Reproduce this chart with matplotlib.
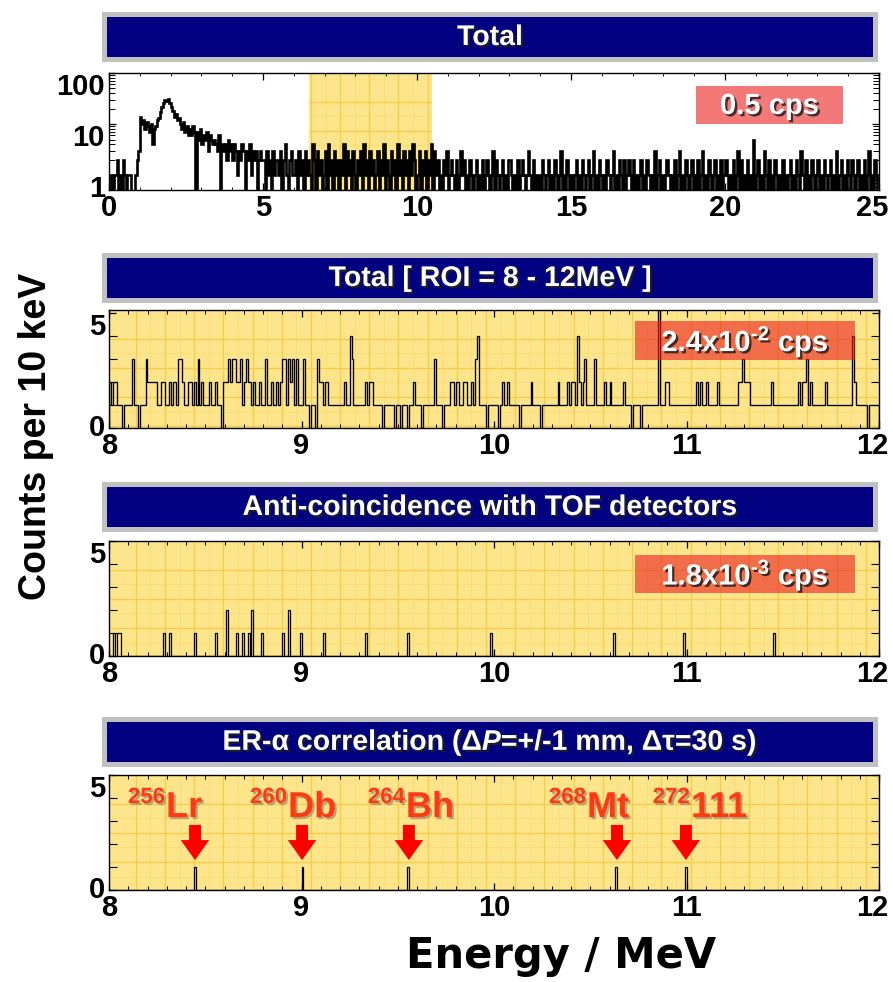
import numpy as np
import matplotlib
matplotlib.use('Agg')
import matplotlib.pyplot as plt
from matplotlib.patches import Rectangle, FancyArrow
from matplotlib.collections import LineCollection
from matplotlib.transforms import ScaledTranslation
import matplotlib.patheffects as pe
from matplotlib.ticker import FixedLocator, FixedFormatter, MultipleLocator, NullFormatter, LogLocator

plt.rcParams['font.family'] = ['Liberation Sans', 'DejaVu Sans']
plt.rcParams['font.weight'] = 'bold'
plt.rcParams['mathtext.fontset'] = 'custom'
plt.rcParams['mathtext.rm'] = 'Liberation Sans:bold'
plt.rcParams['mathtext.it'] = 'Liberation Sans:italic:bold'
plt.rcParams['mathtext.bf'] = 'Liberation Sans:bold'
plt.rcParams['mathtext.default'] = 'regular'
plt.rcParams['path.simplify'] = False

# ---------------- data ----------------
# Panel 1: total spectrum, counts per 10 keV, read at 0.05 MeV steps
total_low = [0, 1, 0, 1, 1, 2, 0, 1, 0, 2, 1, 0, 1, 1, 0, 0, 0, 1, 2, 3,      # 0-1 MeV
             14, 10, 12, 8, 11, 9, 7, 10, 4, 8, 9, 12,                        # 1.0-1.6
             13, 17, 22, 26, 30, 28, 31, 26, 22,                              # 1.6-2.05
             18, 14, 16, 12, 13,                                              # 2.05-2.3
             10, 8, 11, 7, 9, 6, 8, 6, 9, 7,                                  # 2.3-2.8
             0, 7, 5, 8, 4, 6, 5, 7, 3, 6, 5, 4,                              # 2.8-3.4
             5, 4, 3, 6, 0, 4, 3, 4, 2, 5, 3, 4, 2, 4, 3, 1,                  # 3.4-4.2
             3, 2, 4, 3, 0, 3, 2, 4, 1, 3, 2, 3, 0, 2, 3, 2]                  # 4.2-5.0
total_high_rows = [
    "20312031221302410231",  # 5 MeV
    "12031203121042031201",  # 6
    "30412031202140312031",  # 7
    "02130412031201302140",  # 8
    "21031204120312031420",  # 9
    "13021302140312010213",  # 10
    "01210201312010210120",  # 11
    "10201210130210120102",  # 12
    "21010201210131020101",  # 13
    "02101201021013010210",  # 14
    "10120102101201301021",  # 15
    "01021013010210201210",  # 16
    "20101201021010301201",  # 17
    "01210102013010210120",  # 18
    "10201301021012010201",  # 19
    "21010201302010201050",  # 20
    "12010310201021010201",  # 21
    "01201021031020102101",  # 22
    "20102101201030120102",  # 23
    "10210120102013010210",  # 24
]
total_step = 0.05
roi_band = (6.5, 10.5)
rate_total = "0.5 cps"

# Panel 2: ROI 8-12 MeV, counts per 10 keV bin (rows of 0.1 MeV)
roi_rows = [
    [2, 1, 2, 2, 1, 1, 1, 0, 1, 1], [1, 1, 3, 1, 1, 0, 1, 1, 1, 3],
    [2, 2, 2, 2, 2, 1, 1, 2, 2, 1], [1, 2, 1, 2, 2, 1, 3, 3, 2, 1],
    [1, 2, 2, 1, 2, 1, 3, 1, 2, 1], [1, 1, 2, 1, 1, 2, 1, 1, 0, 2],
    [2, 2, 3, 2, 3, 3, 2, 2, 3, 1], [2, 3, 2, 2, 1, 2, 1, 1, 2, 1],
    [1, 3, 1, 1, 2, 1, 1, 2, 1, 2], [3, 3, 1, 3, 2, 3, 1, 3, 1, 1],
    [1, 3, 1, 1, 0, 1, 1, 0, 3, 2], [2, 1, 2, 2, 1, 1, 1, 1, 1, 1],
    [1, 1, 2, 1, 1, 4, 3, 1, 1, 1], [1, 1, 1, 2, 1, 2, 2, 1, 1, 1],
    [1, 1, 0, 1, 1, 1, 1, 1, 0, 1], [1, 0, 1, 1, 1, 0, 1, 1, 2, 1],
    [1, 1, 0, 1, 1, 1, 1, 1, 1, 3], [1, 1, 1, 0, 1, 1, 1, 2, 2, 1],
    [2, 2, 1, 1, 2, 2, 1, 1, 2, 1], [3, 4, 1, 1, 1, 1, 0, 1, 1, 1],
    [1, 1, 0, 1, 2, 1, 1, 2, 1, 1], [1, 1, 1, 0, 1, 1, 1, 1, 1, 2],
    [1, 1, 1, 1, 0, 1, 1, 1, 1, 1], [1, 1, 1, 2, 1, 1, 1, 1, 2, 1],
    [2, 2, 1, 4, 2, 1, 2, 3, 1, 1], [1, 1, 3, 1, 1, 1, 1, 2, 1, 1],
    [2, 1, 1, 1, 1, 1, 1, 2, 1, 1], [1, 0, 1, 1, 1, 1, 0, 1, 1, 1],
    [1, 1, 1, 1, 1, 6, 1, 1, 1, 2], [2, 1, 1, 1, 1, 1, 1, 1, 1, 1],
    [1, 1, 1, 1, 1, 2, 1, 2, 1, 1], [2, 1, 1, 1, 1, 1, 2, 1, 1, 1],
    [1, 1, 1, 1, 1, 1, 1, 2, 2, 3], [2, 2, 2, 1, 1, 1, 1, 1, 1, 1],
    [1, 1, 1, 1, 2, 1, 1, 1, 1, 1], [1, 1, 1, 1, 1, 1, 1, 1, 2, 1],
    [2, 2, 3, 1, 2, 1, 1, 1, 1, 1], [1, 1, 2, 1, 1, 1, 1, 1, 1, 1],
    [1, 1, 1, 1, 1, 1, 4, 2, 1, 1], [1, 1, 1, 1, 0, 1, 1, 1, 1, 1],
]
rate_roi = "2.4x10$^{\u2010 2}$ cps"

# Panel 3: anti-coincidence events (energy MeV, counts)
anti_E = [8.021, 8.043, 8.055, 8.287, 8.312, 8.445, 8.558, 8.617, 8.667, 8.692,
          8.727, 8.745, 8.797, 8.906, 8.937, 8.996, 9.113, 9.338, 9.553, 9.984,
          10.62, 10.98, 11.455]
anti_N = [1, 1, 1, 1, 1, 1, 1, 2, 1, 1, 1, 2, 1, 1, 2, 1, 1, 1, 1, 1, 1, 1, 1]
rate_anti = "1.8x10$^{\u2010 3}$ cps"

# Panel 4: ER-alpha correlated events
er_E = [8.447, 9.003, 9.558, 10.639, 10.997]
er_N = [1, 1, 1, 1, 1]
er_mass = ["256", "260", "264", "268", "272"]
er_sym = ["Lr", "Db", "Bh", "Mt", "111"]

titles = ["Total", "Total [ ROI = 8 - 12MeV ]", "Anti-coincidence with TOF detectors",
          "ER-\u03b1 correlation (\u0394$\\mathit{P}$=+/-1 mm, \u0394\u03c4=30 s)"]
roi_edges_range = (8.0, 12.0)
bin_w = 0.01

# ---------------- figure ----------------
W, H = 893, 982
fig = plt.figure(figsize=(W / 100, H / 100), dpi=100)

def fx(px):
    return px / W

def fy(py):
    return 1 - py / H

def add_axes(x0, y0, x1, y1):
    return fig.add_axes([fx(x0), fy(y1), (x1 - x0) / W, (y1 - y0) / H])

shadow = [pe.SimplePatchShadow(offset=(1.6, -1.6), shadow_rgbFace='#202020', alpha=0.85), pe.Normal()]
lshadow = [pe.SimplePatchShadow(offset=(1.5, -1.5), shadow_rgbFace='#9a8a70', alpha=0.7), pe.Normal()]

YEL = '#FDE58C'
GRIDC = '#F6CC48'


def title_bar(y0, y1, text):
    fig.patches.append(Rectangle((fx(102), fy(y1)), (878 - 102) / W, (y1 - y0) / H,
                                 transform=fig.transFigure, facecolor='#C0C0C0', edgecolor='none'))
    fig.patches.append(Rectangle((fx(107), fy(y1 - 5)), (873 - 107) / W, (y1 - y0 - 10) / H,
                                 transform=fig.transFigure, facecolor='#000080', edgecolor='none'))
    fig.text(fx(490), fy((y0 + y1) / 2 + 1), text, color='white', fontsize=20.5, fontweight='bold',
             ha='center', va='center', path_effects=shadow)


def paper(ax, w_px, h_px, clip=None):
    segs = []
    x = 26.7
    while x < w_px:
        segs.append([(x / w_px, 0), (x / w_px, 1)])
        x += 29.2
    y = 28.5
    while y < h_px:
        segs.append([(0, 1 - y / h_px), (1, 1 - y / h_px)])
        y += 29.2
    lc = LineCollection(segs, colors=GRIDC, linewidths=0.9, transform=ax.transAxes, zorder=0.6)
    ax.add_collection(lc)
    if clip is not None:
        lc.set_clip_path(clip)
    segs2 = []
    x = 26.7 + 14.6
    while x < w_px:
        segs2.append([(x / w_px, 0), (x / w_px, 1)])
        x += 29.2
    y = 28.5 + 14.6
    while y < h_px:
        segs2.append([(0, 1 - y / h_px), (1, 1 - y / h_px)])
        y += 29.2
    lc2 = LineCollection(segs2, colors='#F9DA72', linewidths=0.5, transform=ax.transAxes, zorder=0.55)
    ax.add_collection(lc2)
    if clip is not None:
        lc2.set_clip_path(clip)


def rate_box(ax, x0, y0, x1, y1, text):
    r = Rectangle((fx(x0), fy(y1)), (x1 - x0) / W, (y1 - y0) / H, transform=fig.transFigure,
                  facecolor='#EC1E1E', alpha=0.6, edgecolor='none', zorder=3)
    ax.add_patch(r)
    fig.text(fx((x0 + x1) / 2), fy((y0 + y1) / 2 + 1), text, color='white', fontsize=21,
             ha='center', va='center', path_effects=shadow, zorder=6)


AX_X0, AX_X1 = 109, 879

# ---- panel 1 ----
title_bar(12, 62, titles[0])
ax1 = add_axes(AX_X0, 73, AX_X1, 190)
total_high = [int(c) for row in total_high_rows for c in row]
vals1 = np.array(total_low + total_high, dtype=float)
edges1 = np.arange(len(vals1) + 1) * total_step
ax1.set_xlim(0, 25)
ax1.set_yscale('log')
ax1.set_ylim(0.515, 100)
span = ax1.axvspan(roi_band[0], roi_band[1], facecolor=YEL, edgecolor='none', zorder=0.5)
paper(ax1, AX_X1 - AX_X0, 117, clip=span)
# empty bins drawn at a floor below the visible range so the steps drop to the axis
vals1_draw = np.where(vals1 > 0, vals1, 0.2)
ax1.stairs(vals1_draw, edges1, baseline=0.2, color='black', lw=1.9, zorder=2)
ax1.xaxis.set_major_locator(MultipleLocator(5))
ax1.xaxis.set_minor_locator(MultipleLocator(1))
ax1.yaxis.set_major_locator(FixedLocator([1, 10, 100]))
ax1.yaxis.set_major_formatter(FixedFormatter(['1', '10', '100']))
ax1.yaxis.set_minor_locator(LogLocator(base=10, subs=np.arange(2, 10)))
ax1.yaxis.set_minor_formatter(NullFormatter())
rate_box(ax1, 696, 86, 843, 124, rate_total)

# ---- panels 2-4 ----
edges = np.round(np.arange(roi_edges_range[0], roi_edges_range[1] + bin_w / 2, bin_w), 3)

title_bar(253, 303, titles[1])
ax2 = add_axes(AX_X0, 310, AX_X1, 428)
vals2 = np.array([v for row in roi_rows for v in row], dtype=float)
ax2.set_facecolor(YEL)
paper(ax2, AX_X1 - AX_X0, 118)
ax2.stairs(vals2, edges, baseline=0, color='black', lw=0.95, zorder=2)
ax2.set_ylim(0, 5.13)
rate_box(ax2, 635, 321, 855, 360, rate_roi)

title_bar(482, 532, titles[2])
ax3 = add_axes(AX_X0, 541, AX_X1, 656)
vals3, _ = np.histogram(anti_E, bins=edges, weights=anti_N)
ax3.set_facecolor(YEL)
paper(ax3, AX_X1 - AX_X0, 115)
ax3.stairs(vals3, edges, baseline=0, color='black', lw=0.9, zorder=2)
ax3.set_ylim(0, 5)
rate_box(ax3, 635, 555, 855, 593, rate_anti)

title_bar(717, 767, titles[3])
ax4 = add_axes(AX_X0, 775, AX_X1, 890)
vals4, _ = np.histogram(er_E, bins=edges, weights=er_N)
ax4.set_facecolor(YEL)
paper(ax4, AX_X1 - AX_X0, 115)
ax4.stairs(vals4, edges, baseline=0, color='black', lw=0.9, zorder=2)
ax4.set_ylim(0, 5)

# arrows and nuclide labels (layout in pixel offsets)
px_per_mev = (AX_X1 - AX_X0) / 4.0
label_dx_px = [-30, -15, -4, -31, 4]
LABC = '#FF3A12'
for E, mass, sym, dxp in zip(er_E, er_mass, er_sym, label_dx_px):
    ax4.add_patch(FancyArrow(E, 2.83, 0, -1.53, width=0.062, head_width=0.148, head_length=0.87,
                             length_includes_head=True, facecolor='#FF0000', edgecolor='none', zorder=4))
    xb = E + dxp / px_per_mev
    ax4.text(xb, 3.78, mass, ha='right', va='baseline', fontsize=16, color=LABC,
             path_effects=lshadow, zorder=5)
    ax4.text(xb + 1 / px_per_mev, 3.17, sym, ha='left', va='baseline', fontsize=26, color=LABC,
             path_effects=lshadow, zorder=5)

for ax in (ax2, ax3, ax4):
    ax.set_xlim(*roi_edges_range)
    ax.xaxis.set_major_locator(MultipleLocator(1))
    ax.xaxis.set_minor_locator(MultipleLocator(0.1))
    ax.yaxis.set_major_locator(FixedLocator([0, 5]))
    ax.yaxis.set_minor_locator(FixedLocator([1, 2, 3, 4]))
    ax.tick_params(axis='y', which='minor', length=6, width=0.8)
    ax.tick_params(axis='x', which='minor', length=3, width=0.7)

for ax in (ax1, ax2, ax3, ax4):
    ax.tick_params(which='both', direction='in', top=True, right=True, labelsize=21, pad=3)
    ax.tick_params(which='major', length=5, width=0.9)
    for sp in ax.spines.values():
        sp.set_linewidth(1.0)
    ax.set_axisbelow(False)

ax1.tick_params(axis='y', which='minor', length=4, width=0.7)

fig.canvas.draw()
for t in ax1.yaxis.get_major_ticks():
    t.label1.set_verticalalignment('top')
for ax in (ax2, ax3, ax4):
    for t in ax.yaxis.get_major_ticks():
        t.label1.set_verticalalignment('top' if t.get_loc() > 2 else 'center')
shift = ScaledTranslation(-7 / 100, 0, fig.dpi_scale_trans)
for ax in (ax1, ax2, ax3, ax4):
    xmax = ax.get_xlim()[1]
    for t in ax.xaxis.get_major_ticks():
        if abs(t.get_loc() - xmax) < 1e-6:
            t.label1.set_transform(t.label1.get_transform() + shift)

fig.text(fx(36), fy(436), "Counts per 10 keV", rotation=90, fontsize=27, ha='center', va='center')
fig.text(fx(561), fy(956), "Energy / MeV", fontsize=30, family=['DejaVu Sans'], fontweight='bold',
         ha='center', va='center')

fig.savefig('out.png', dpi=100, facecolor='white')
